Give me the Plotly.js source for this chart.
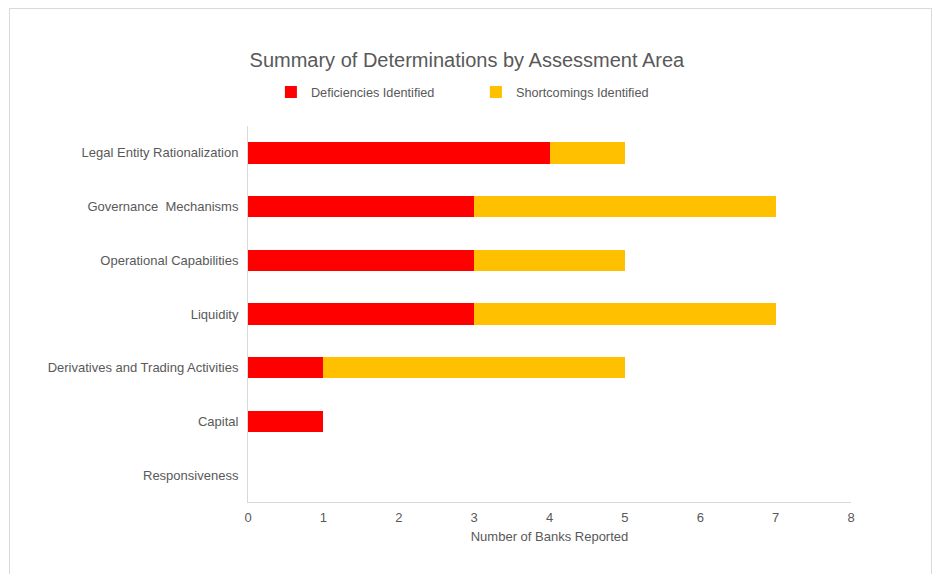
<!DOCTYPE html>
<html><head><meta charset="utf-8">
<script src="https://cdn.plot.ly/plotly-3.0.1.min.js"></script>
<style>
body{margin:0;padding:0;background:#fff;}
#frame{position:absolute;left:9px;top:8px;width:921px;height:580px;border:1px solid #d9d9d9;pointer-events:none;}
#chart{position:absolute;left:0;top:0;width:947px;height:574px;}
</style></head>
<body>
<div id="chart"></div>
<div id="frame"></div>
<script>
const categories = ["Legal Entity Rationalization","Governance\u00a0 Mechanisms","Operational Capabilities","Liquidity","Derivatives and Trading Activities","Capital","Responsiveness"];
const deficiencies = [4,3,3,3,1,1,0];
const shortcomings = [1,4,2,4,4,0,0];
const xTicks = [0,1,2,3,4,5,6,7,8];

const textColor = "#595959";
const FAM = "Liberation Sans, Arial, sans-serif";
const fnt = {family:FAM, size:13, color:textColor};

const data = [
  {type:"bar", orientation:"h", name:"Deficiencies Identified", y:categories, x:deficiencies, marker:{color:"#FF0000"}, hoverinfo:"x+y"},
  {type:"bar", orientation:"h", name:"Shortcomings Identified", y:categories, x:shortcomings, marker:{color:"#FFC000"}, hoverinfo:"x+y"}
];
const layout = {
  width:947, height:574,
  margin:{l:248, r:96, t:126, b:72},
  paper_bgcolor:"#fff", plot_bgcolor:"#fff",
  barmode:"stack", bargap:0.6,
  font:fnt,
  title:{text:"Summary of Determinations by Assessment Area", x:0.493, xref:"container", xanchor:"center", y:0.895, yref:"container", yanchor:"middle", font:{family:FAM, size:20, color:textColor}},
  showlegend:true,
  legend:{orientation:"h", x:0.038, xref:"paper", xanchor:"left", y:1.09, yanchor:"middle", entrywidth:160, entrywidthmode:"pixels", font:{family:FAM, size:12.7, color:textColor}, traceorder:"normal", itemclick:false},
  xaxis:{range:[0,8], tickvals:xTicks, ticktext:xTicks.map(String), showgrid:false, zeroline:false, showline:true, linecolor:"#d9d9d9", linewidth:1, ticks:"", ticklabelstandoff:3,
    title:{text:"Number of Banks Reported", standoff:8, font:{family:FAM, size:13, color:textColor}}, tickfont:{size:13, color:textColor}, fixedrange:true},
  yaxis:{categoryorder:"array", categoryarray:categories.slice().reverse(), autorange:true, showgrid:false, zeroline:false, showline:true, linecolor:"#d9d9d9", linewidth:1, ticks:"", ticklabelstandoff:6, tickfont:{size:13, color:textColor}, fixedrange:true}
};
Plotly.newPlot("chart", data, layout, {displayModeBar:false, staticPlot:true});
</script>
</body></html>
